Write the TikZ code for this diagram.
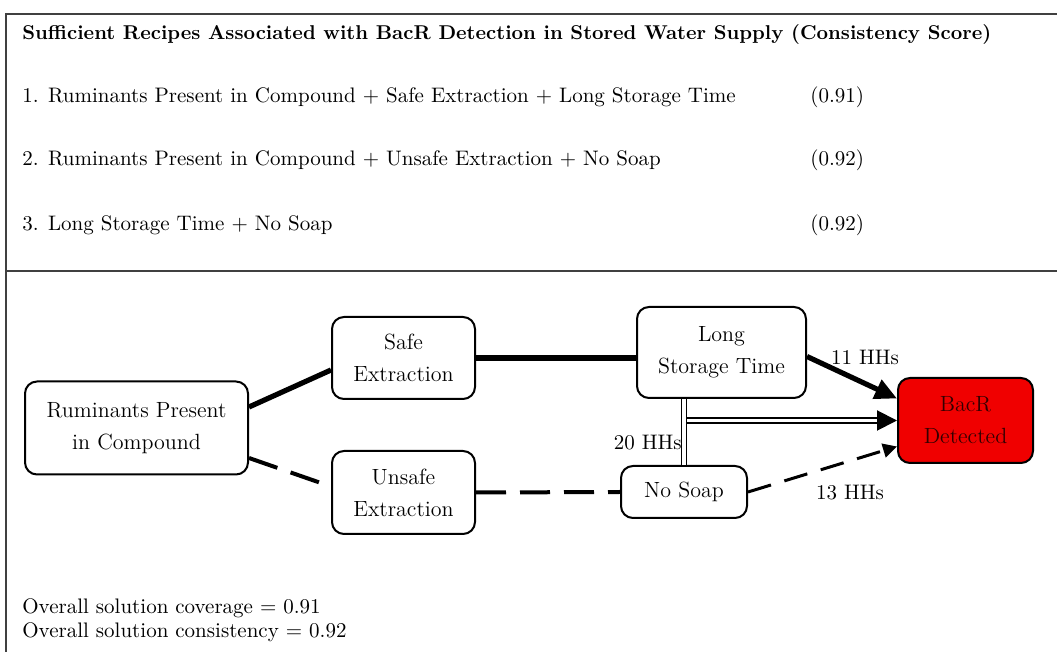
\documentclass[tikz,border=0pt]{standalone}
\usepackage{tikz}
\usetikzlibrary{arrows.meta}

\definecolor{detectred}{RGB}{240, 0, 0}

\tikzset{
    box/.style = {draw, line width = 1pt, rounded corners = 6pt, align = center, fill = white, inner sep = 2pt, font = \fontsize{11}{16}\selectfont},
    solidlink/.style = {line width = 2.6pt},
    dashlink/.style = {line width = 2pt, dash pattern = on 15pt off 7pt},
    txt/.style = {anchor = west, inner sep = 0pt, font = \fontsize{10.5}{12}\selectfont},
    hhs/.style = {inner sep = 0pt, font = \fontsize{10.5}{12}\selectfont},
}

\begin{document}
\begin{tikzpicture}[x = 0.5pt, y = -0.5pt]
    \useasboundingbox (0, 0) rectangle (1057, 652);
    
    % Frame
    \draw[line width = 0.8pt, black!75] (6, 652) -- (6, 14) -- (1057, 14);
    %
    \draw[line width = 0.8pt, black!75] (6, 271) -- (1057, 271);
    
    % Recipes
    \node[txt, font = \fontsize{10}{12}\selectfont\bfseries] (title) at (22, 34) {Sufficient Recipes Associated with BacR Detection in Stored Water Supply (Consistency Score)};
    %
    \node[txt] (recipeA) at (22, 97) {1. Ruminants Present in Compound + Safe Extraction + Long Storage Time};
    %
    \node[txt] (recipeB) at (22, 160) {2. Ruminants Present in Compound + Unsafe Extraction + No Soap};
    %
    \node[txt] (recipeC) at (22, 225) {3. Long Storage Time + No Soap};
    
    \node[txt] (scoreA) at (810, 97) {(0.91)};
    %
    \node[txt] (scoreB) at (810, 160) {(0.92)};
    %
    \node[txt] (scoreC) at (810, 225) {(0.92)};
    
    % Conditions
    \node[box, minimum width = 111.5pt, minimum height = 46.5pt] (rum) at (136.5, 428) {Ruminants Present\\in Compound};
    %
    \node[box, minimum width = 71.5pt, minimum height = 41pt] (safe) at (403.5, 358) {Safe\\Extraction};
    %
    \node[box, minimum width = 71.5pt, minimum height = 41.5pt] (unsafe) at (403.5, 492.5) {Unsafe\\Extraction};
    %
    \node[box, minimum width = 84.5pt, minimum height = 45.5pt] (long) at (721.5, 352.5) {Long\\Storage Time};
    %
    \node[box, minimum width = 63pt, minimum height = 26pt] (soap) at (684, 492) {No Soap};
    %
    \node[box, fill = detectred, text = black!80!red, minimum width = 67.5pt, minimum height = 42.5pt] (bacr) at (965.5, 420.5) {BacR\\Detected};
    
    % Links
    \draw[solidlink] ([yshift = 10.5pt] rum.east) -- ([yshift = -6pt] safe.west);
    %
    \draw[dashlink] ([yshift = -15pt] rum.east) -- ([yshift = 3pt] unsafe.west);
    %
    \draw[solidlink] (safe.east) -- (safe.east -| long.west);
    %
    \draw[dashlink] (unsafe.east) -- (soap.west);
    
    \draw[solidlink, -{Triangle[length = 11pt, width = 10pt]}] ([yshift = -2pt] long.east) -- ([yshift = 11pt] bacr.west);
    %
    \draw[line width = 1.5pt, dash pattern = on 12pt off 7pt, -{Triangle[length = 7pt, width = 7pt]}] (soap.east) -- ([yshift = -13pt] bacr.west);
    
    \coordinate (split) at (soap.north |- bacr.west);
    %
    \draw[double, double distance = 1.6pt, line width = 0.8pt] (soap.north |- long.south) -- (soap.north);
    %
    \draw[double, double distance = 1.6pt, line width = 0.8pt, shorten > = 8pt] ([xshift = 1.6pt] split) -- (bacr.west);
    %
    \draw[line width = 1pt, -{Triangle[length = 10pt, width = 10pt]}] ([xshift = -10pt] bacr.west) -- (bacr.west);
    
    \node[hhs] (lblA) at (865, 357) {11 HHs};
    %
    \node[hhs, anchor = east] (lblB) at (682, 443) {20 HHs};
    %
    \node[hhs] (lblC) at (850, 493) {13 HHs};
    
    % Overall
    \node[txt] (cover) at (22, 608) {Overall solution coverage = 0.91};
    %
    \node[txt] (consist) at (22, 632) {Overall solution consistency = 0.92};
\end{tikzpicture}
\end{document}
